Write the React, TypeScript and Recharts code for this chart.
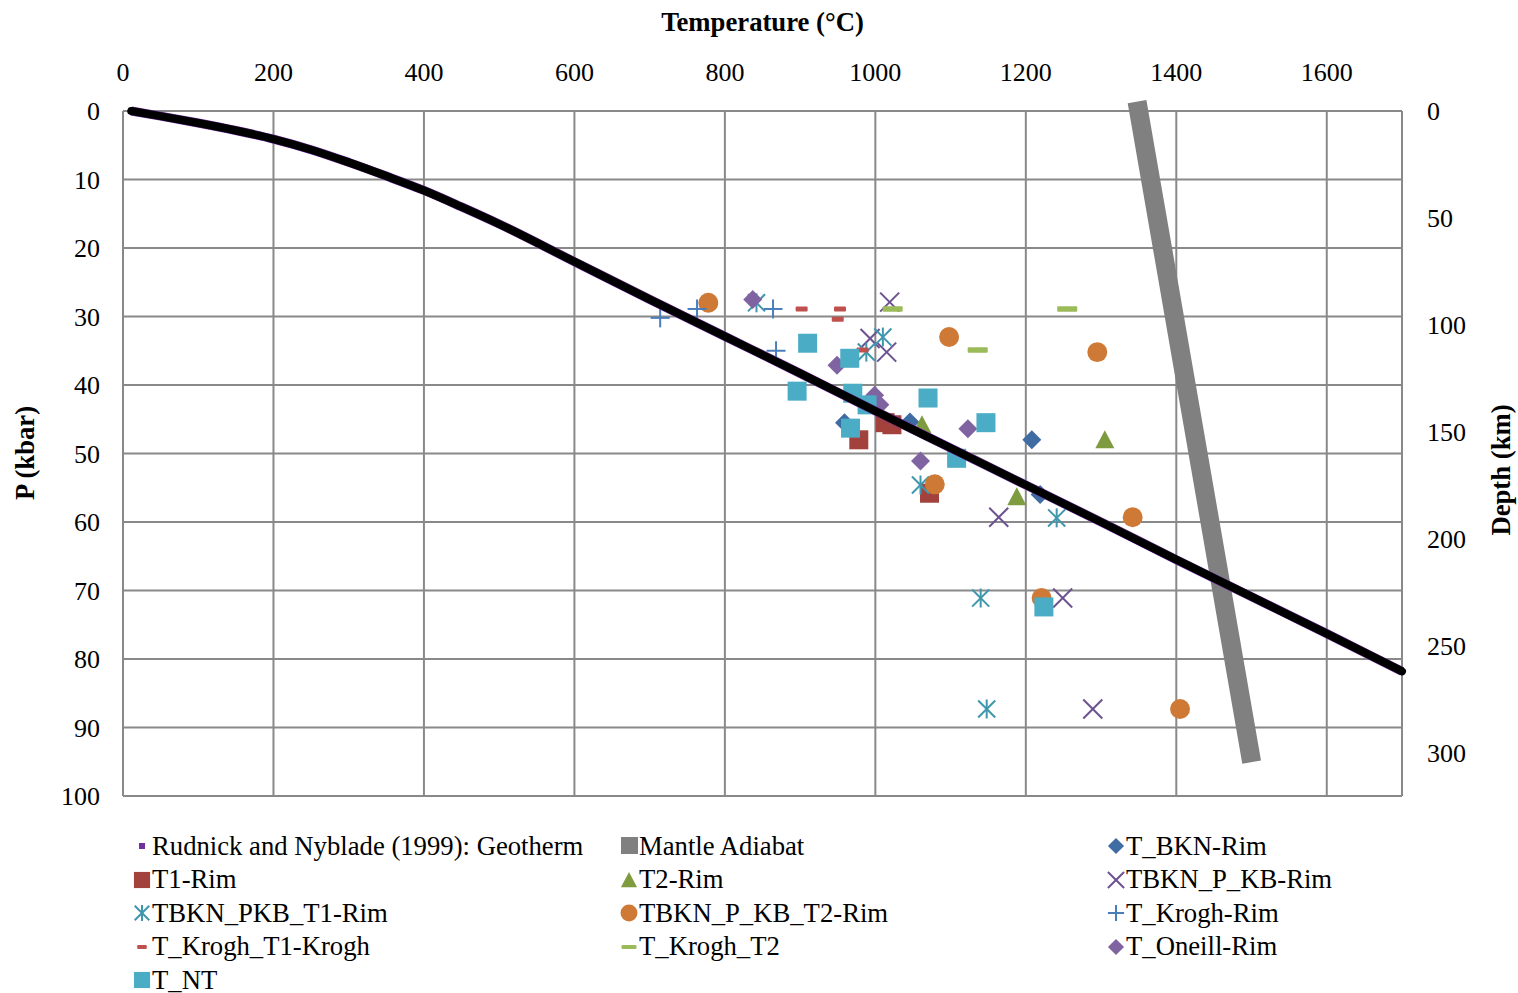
import { ScatterChart, Scatter, XAxis, YAxis, CartesianGrid } from "recharts";

const tempTicks = [0, 200, 400, 600, 800, 1000, 1200, 1400, 1600];
const pressureTicks = [0, 10, 20, 30, 40, 50, 60, 70, 80, 90, 100];
const depthTicks = [0, 50, 100, 150, 200, 250, 300];

// Rudnick and Nyblade (1999) geotherm
const geotherm = [
  { t: 11, p: 0 }, { t: 50, p: 0.75 }, { t: 100, p: 1.75 }, { t: 150, p: 2.85 },
  { t: 200, p: 4.1 }, { t: 250, p: 5.65 }, { t: 300, p: 7.5 }, { t: 350, p: 9.5 },
  { t: 400, p: 11.6 }, { t: 450, p: 14 }, { t: 500, p: 16.5 }, { t: 600, p: 22 },
  { t: 700, p: 27.5 }, { t: 800, p: 32.9 }, { t: 900, p: 38.3 }, { t: 1000, p: 43.8 },
  { t: 1100, p: 49.2 }, { t: 1200, p: 54.6 }, { t: 1300, p: 60 }, { t: 1400, p: 65.5 },
  { t: 1500, p: 70.9 }, { t: 1600, p: 76.3 }, { t: 1700, p: 81.8 },
];
const mantleAdiabat = [{ t: 1350, p: 0 }, { t: 1498, p: 93.7 }];

const tBknRim = [{ t: 959, p: 45.5 }, { t: 1046, p: 45.4 }, { t: 1208, p: 48 }, { t: 1219, p: 56 }];
const t1Rim = [{ t: 978, p: 48 }, { t: 1013, p: 45.5 }, { t: 1022, p: 45.8 }, { t: 1072, p: 55.8 }];
const t2Rim = [{ t: 1062, p: 45.8 }, { t: 1188, p: 56.3 }, { t: 1305, p: 48 }];
const tbknPKbRim = [
  { t: 1019, p: 27.9 }, { t: 993, p: 33.2 }, { t: 1015, p: 35.2 },
  { t: 1164, p: 59.3 }, { t: 1249, p: 71.1 }, { t: 1289, p: 87.3 },
];
const tbknPkbT1Rim = [
  { t: 842, p: 28 }, { t: 1010, p: 33 }, { t: 988, p: 35.2 }, { t: 1060, p: 54.6 },
  { t: 1241, p: 59.4 }, { t: 1140, p: 71.1 }, { t: 1148, p: 87.3 },
];
const tbknPKbT2Rim = [
  { t: 778, p: 28 }, { t: 1098, p: 33 }, { t: 1295, p: 35.2 }, { t: 1079, p: 54.5 },
  { t: 1342, p: 59.3 }, { t: 1221, p: 71.1 }, { t: 1405, p: 87.3 },
];
const tKroghRim = [{ t: 714, p: 30.2 }, { t: 763, p: 28.9 }, { t: 864, p: 28.9 }, { t: 868, p: 35 }];
const tKroghT1 = [{ t: 902, p: 28.9 }, { t: 953, p: 28.9 }, { t: 950, p: 30.4 }, { t: 983, p: 34.9 }];
const tKroghT2 = [{ t: 1023, p: 28.9 }, { t: 1255, p: 28.9 }, { t: 1136, p: 34.9 }];
const tOneillRim = [
  { t: 837, p: 27.5 }, { t: 949, p: 37.1 }, { t: 999, p: 41.5 },
  { t: 1006, p: 42.9 }, { t: 1123, p: 46.4 }, { t: 1060, p: 51.1 },
];
const tNt = [
  { t: 910, p: 33.9 }, { t: 966, p: 36.1 }, { t: 896, p: 40.9 }, { t: 970, p: 41.2 },
  { t: 1070, p: 41.9 }, { t: 989, p: 42.9 }, { t: 967, p: 46.3 }, { t: 1147, p: 45.5 },
  { t: 1108, p: 50.7 }, { t: 1224, p: 72.4 },
];

const FONT = "'Liberation Serif', 'Times New Roman', serif";
const GRID = "#898989";

type Kind = "square" | "diamond" | "triangle" | "circle" | "x" | "asterisk" | "plus" | "dash" | "longdash" | "dot";

function marker(kind: Kind, color: string, cx: number, cy: number, s = 1) {
  const r = 9.5 * s;
  switch (kind) {
    case "square":
      return <rect x={cx - r} y={cy - r} width={2 * r} height={2 * r} fill={color} />;
    case "diamond":
      return <polygon points={`${cx},${cy - r} ${cx + r},${cy} ${cx},${cy + r} ${cx - r},${cy}`} fill={color} />;
    case "triangle":
      return <polygon points={`${cx},${cy - r} ${cx + r},${cy + r * 0.9} ${cx - r},${cy + r * 0.9}`} fill={color} />;
    case "circle":
      return <circle cx={cx} cy={cy} r={r * 1.05} fill={color} />;
    case "x":
      return (
        <g stroke={color} strokeWidth={2}>
          <line x1={cx - r} y1={cy - r} x2={cx + r} y2={cy + r} />
          <line x1={cx - r} y1={cy + r} x2={cx + r} y2={cy - r} />
        </g>
      );
    case "asterisk":
      return (
        <g stroke={color} strokeWidth={2}>
          <line x1={cx - r * 0.9} y1={cy - r * 0.9} x2={cx + r * 0.9} y2={cy + r * 0.9} />
          <line x1={cx - r * 0.9} y1={cy + r * 0.9} x2={cx + r * 0.9} y2={cy - r * 0.9} />
          <line x1={cx} y1={cy - r} x2={cx} y2={cy + r} />
        </g>
      );
    case "plus":
      return (
        <g stroke={color} strokeWidth={2}>
          <line x1={cx - r} y1={cy} x2={cx + r} y2={cy} />
          <line x1={cx} y1={cy - r} x2={cx} y2={cy + r} />
        </g>
      );
    case "dash":
      return <rect x={cx - 6 * s} y={cy - 2.5 * s} width={12 * s} height={5 * s} rx={1} fill={color} />;
    case "longdash":
      return <rect x={cx - 10 * s} y={cy - 2.8 * s} width={20 * s} height={5.6 * s} rx={1} fill={color} />;
    case "dot":
      return <rect x={cx - 3} y={cy - 3} width={6} height={6} fill={color} />;
  }
}

const shapeOf = (kind: Kind, color: string) => (props: any) => {
  if (props.cx == null || props.cy == null) return <g />;
  return marker(kind, color, props.cx, props.cy);
};

const series = [
  { name: "T_BKN-Rim", data: tBknRim, kind: "diamond" as Kind, color: "#3E6CA3" },
  { name: "T1-Rim", data: t1Rim, kind: "square" as Kind, color: "#A3413D" },
  { name: "T2-Rim", data: t2Rim, kind: "triangle" as Kind, color: "#7F9B3F" },
  { name: "TBKN_P_KB-Rim", data: tbknPKbRim, kind: "x" as Kind, color: "#6C5290" },
  { name: "TBKN_PKB_T1-Rim", data: tbknPkbT1Rim, kind: "asterisk" as Kind, color: "#3F97AD" },
  { name: "TBKN_P_KB_T2-Rim", data: tbknPKbT2Rim, kind: "circle" as Kind, color: "#CE7A36" },
  { name: "T_Krogh-Rim", data: tKroghRim, kind: "plus" as Kind, color: "#4A7EBB" },
  { name: "T_Krogh_T1-Krogh", data: tKroghT1, kind: "dash" as Kind, color: "#C0504D" },
  { name: "T_Krogh_T2", data: tKroghT2, kind: "longdash" as Kind, color: "#9BBB59" },
  { name: "T_Oneill-Rim", data: tOneillRim, kind: "diamond" as Kind, color: "#8064A2" },
  { name: "T_NT", data: tNt, kind: "square" as Kind, color: "#4BACC6" },
];

const legendItems: { name: string; kind: Kind | "gray"; color: string }[] = [
  { name: "Rudnick and Nyblade (1999): Geotherm", kind: "dot", color: "#7030A0" },
  { name: "Mantle Adiabat", kind: "gray", color: "#808080" },
  ...series.map((s) => ({ name: s.name, kind: s.kind, color: s.color })),
];

function Legend() {
  const cols = [133, 620, 1107];
  return (
    <>
      {legendItems.map((it, i) => {
        const col = i % 3;
        const row = Math.floor(i / 3);
        const y = 846 + row * 33.5;
        return (
          <div
            key={it.name}
            style={{ position: "absolute", left: cols[col], top: y - 16, height: 32, display: "flex", alignItems: "center", fontFamily: FONT, fontSize: 26.7, color: "#000", whiteSpace: "nowrap" }}
          >
            <svg width={18} height={20} style={{ marginRight: 1 }}>
              {it.kind === "gray"
                ? <rect x={1} y={1} width={17} height={17} fill={it.color} />
                : marker(it.kind as Kind, it.color, 9, 10, it.kind === "longdash" ? 0.75 : it.kind === "dash" ? 0.8 : 0.85)}
            </svg>
            <span>{it.name}</span>
          </div>
        );
      })}
    </>
  );
}

const tickStyle = { fontFamily: FONT, fontSize: 26, fill: "#000" };

export default function App() {
  return (
    <div style={{ position: "absolute", left: 0, top: 0, width: 1518, height: 993, background: "#fff" }}>
      <ScatterChart width={1518} height={993} margin={{ top: 51, left: 63, right: 56, bottom: 197 }}>
        <CartesianGrid yAxisId="p" stroke={GRID} strokeWidth={2} />
        <XAxis
          type="number"
          dataKey="t"
          orientation="top"
          height={60}
          domain={[0, 1700]}
          ticks={tempTicks}
          tickLine={false}
          tickSize={0}
          tickMargin={30}
          axisLine={{ stroke: GRID, strokeWidth: 2 }}
          tick={tickStyle}
        />
        <YAxis
          yAxisId="p"
          type="number"
          dataKey="p"
          reversed
          width={60}
          domain={[0, 100]}
          ticks={pressureTicks}
          tickLine={false}
          tickSize={0}
          tickMargin={23}
          axisLine={{ stroke: GRID, strokeWidth: 2 }}
          tick={tickStyle}
        />
        <YAxis
          yAxisId="depth"
          orientation="right"
          type="number"
          reversed
          width={60}
          domain={[0, 320]}
          ticks={depthTicks}
          allowDataOverflow
          tickLine={false}
          tickSize={0}
          tickMargin={25}
          axisLine={{ stroke: GRID, strokeWidth: 2 }}
          tick={{ ...tickStyle, textAnchor: "start" }}
        />
        {series.map((s) => (
          <Scatter key={s.name} yAxisId="p" name={s.name} data={s.data} shape={shapeOf(s.kind, s.color)} isAnimationActive={false} />
        ))}
        <Scatter
          yAxisId="p"
          name="Mantle Adiabat"
          data={mantleAdiabat}
          line={{ stroke: "#808080", strokeWidth: 19, strokeLinecap: "square" }}
          shape={() => <g />}
          isAnimationActive={false}
        />
        <Scatter
          yAxisId="p"
          name="Rudnick and Nyblade (1999): Geotherm"
          data={geotherm}
          line={{ stroke: "#7030A0", strokeWidth: 9 }}
          lineJointType="monotoneX"
          shape={() => <g />}
          isAnimationActive={false}
        />
        <Scatter
          yAxisId="p"
          name="Geotherm overlay"
          data={geotherm}
          line={{ stroke: "#000", strokeWidth: 8, strokeLinecap: "round" }}
          lineJointType="monotoneX"
          shape={() => <g />}
          isAnimationActive={false}
        />
      </ScatterChart>
      <div style={{ position: "absolute", left: 0, width: 1525, top: 7, textAlign: "center", fontFamily: FONT, fontSize: 26.7, fontWeight: "bold" }}>
        Temperature (°C)
      </div>
      <div style={{ position: "absolute", left: 25, top: 453, transform: "translate(-50%, -50%) rotate(-90deg)", fontFamily: FONT, fontSize: 26.7, fontWeight: "bold", whiteSpace: "nowrap" }}>
        P (kbar)
      </div>
      <div style={{ position: "absolute", left: 1501, top: 470, transform: "translate(-50%, -50%) rotate(-90deg)", fontFamily: FONT, fontSize: 26.7, fontWeight: "bold", whiteSpace: "nowrap" }}>
        Depth (km)
      </div>
      <Legend />
    </div>
  );
}
